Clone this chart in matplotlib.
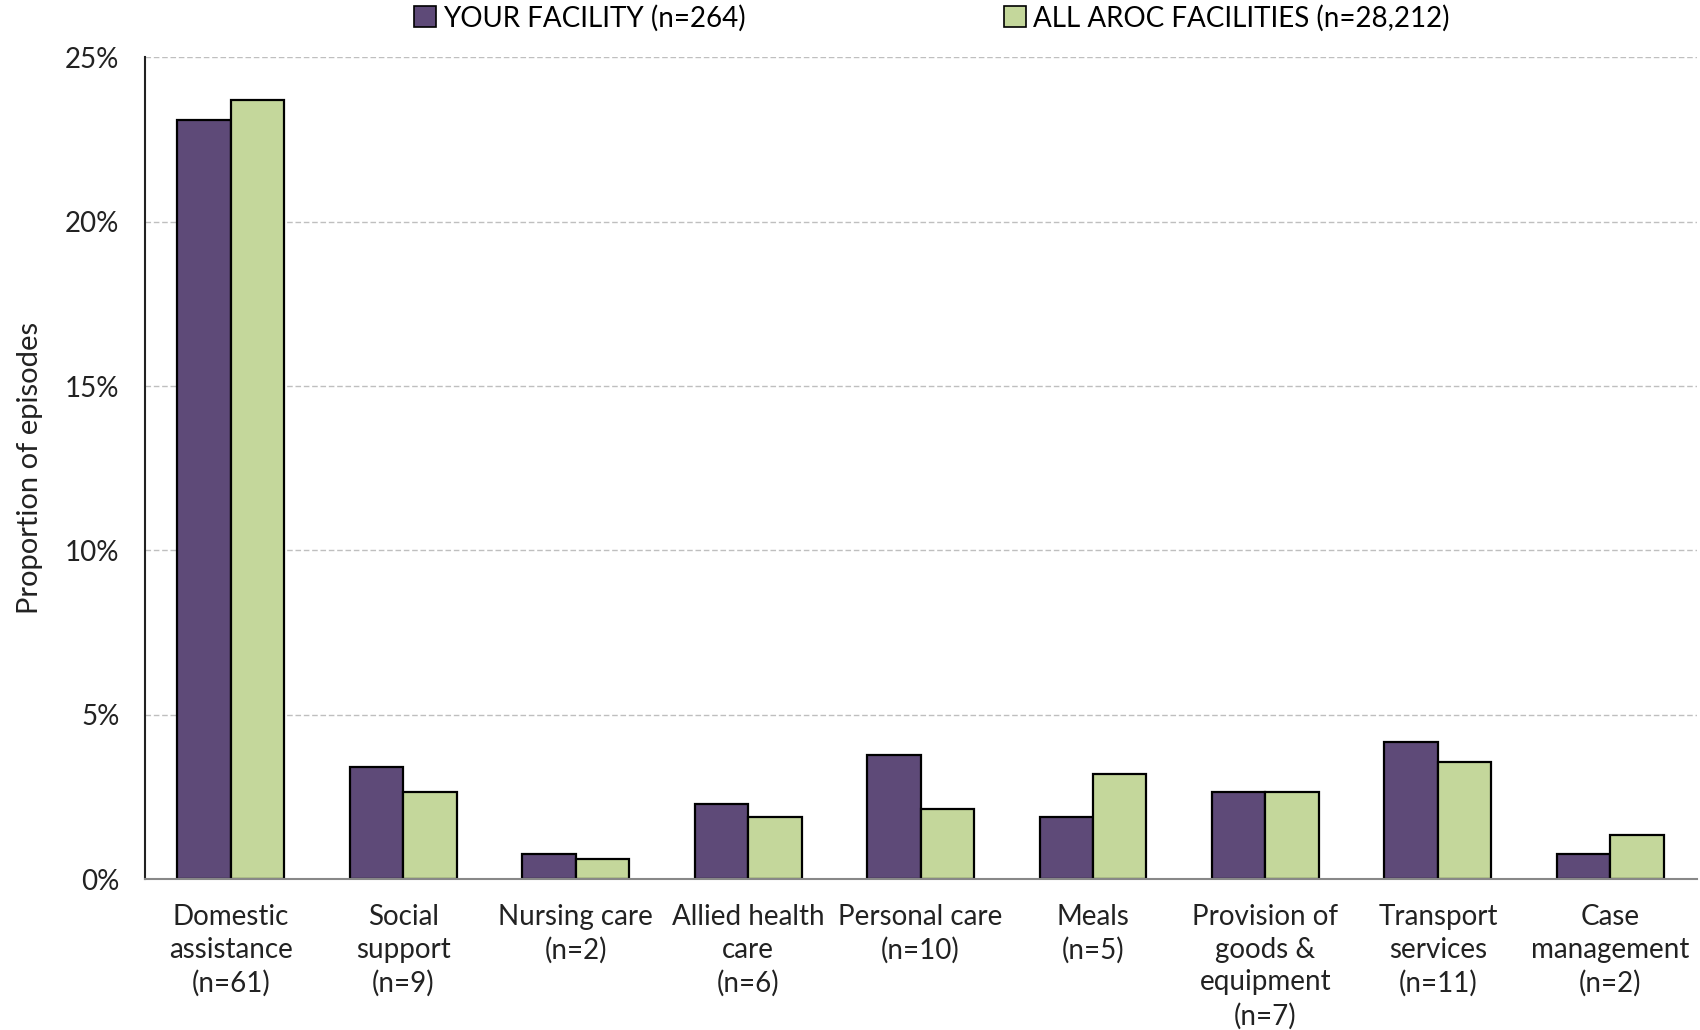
import matplotlib
matplotlib.use("Agg")
import matplotlib.pyplot as plt
import matplotlib.patches as mpatches
from matplotlib.ticker import PercentFormatter
import numpy as np

plt.rcParams["font.family"] = ["Lato", "DejaVu Sans"]

categories = [
    "Domestic\nassistance\n(n=61)",
    "Social\nsupport\n(n=9)",
    "Nursing care\n(n=2)",
    "Allied health\ncare\n(n=6)",
    "Personal care\n(n=10)",
    "Meals\n(n=5)",
    "Provision of\ngoods &\nequipment\n(n=7)",
    "Transport\nservices\n(n=11)",
    "Case\nmanagement\n(n=2)",
]
facility_counts = [61, 9, 2, 6, 10, 5, 7, 11, 2]
facility_total = 264
facility_pct = [100 * c / facility_total for c in facility_counts]
aroc_pct = [23.7, 2.65, 0.6, 1.9, 2.12, 3.2, 2.66, 3.57, 1.33]

series_labels = ["YOUR FACILITY (n=264)", "ALL AROC FACILITIES (n=28,212)"]
purple = "#5e4a78"
green = "#c4d79b"

fig = plt.figure(figsize=(17, 10.3), dpi=100)
ax = fig.add_axes([0.085, 0.1466, 0.913, 0.7976])

x = np.arange(len(categories))
w = 0.31
ax.bar(x - w / 2, facility_pct, w, color=purple, edgecolor="black", linewidth=1.6, zorder=3)
ax.bar(x + w / 2, aroc_pct, w, color=green, edgecolor="black", linewidth=1.6, zorder=3)

ax.set_xlim(-0.5, len(categories) - 0.5)
ax.set_ylim(0, 25)
ax.set_yticks(np.arange(0, 26, 5))
ax.yaxis.set_major_formatter(PercentFormatter(decimals=0))
ax.set_xticks(x)
ax.set_xticklabels(categories, fontsize=20, linespacing=1.32, va="top")
ax.tick_params(axis="both", length=0, colors="#222222")
ax.tick_params(axis="y", labelsize=20, pad=18)
ax.tick_params(axis="x", pad=18)

ax.grid(axis="y", color="#bfbfbf", linestyle=(0, (4, 2)), linewidth=1.0, zorder=0)
ax.grid(axis="x", visible=False)
for side in ["top", "right"]:
    ax.spines[side].set_visible(False)
ax.spines["left"].set_color("#222222")
ax.spines["left"].set_linewidth(1.5)
ax.spines["bottom"].set_color("#888888")
ax.spines["bottom"].set_linewidth(1.5)
ax.spines["bottom"].set_zorder(4)

ax.set_ylabel("Proportion of episodes", fontsize=21, labelpad=16, color="#222222")

handles = [
    mpatches.Patch(facecolor=purple, edgecolor="black", linewidth=1.2, label=series_labels[0]),
    mpatches.Patch(facecolor=green, edgecolor="black", linewidth=1.2, label=series_labels[1]),
]
fig.legend(handles=handles, loc="upper center", bbox_to_anchor=(0.548, 1.02), ncol=2,
           frameon=False, fontsize=20, handlelength=0.8, handleheight=0.8,
           handletextpad=0.25, columnspacing=9.3)

fig.savefig("out.png", dpi=100)
